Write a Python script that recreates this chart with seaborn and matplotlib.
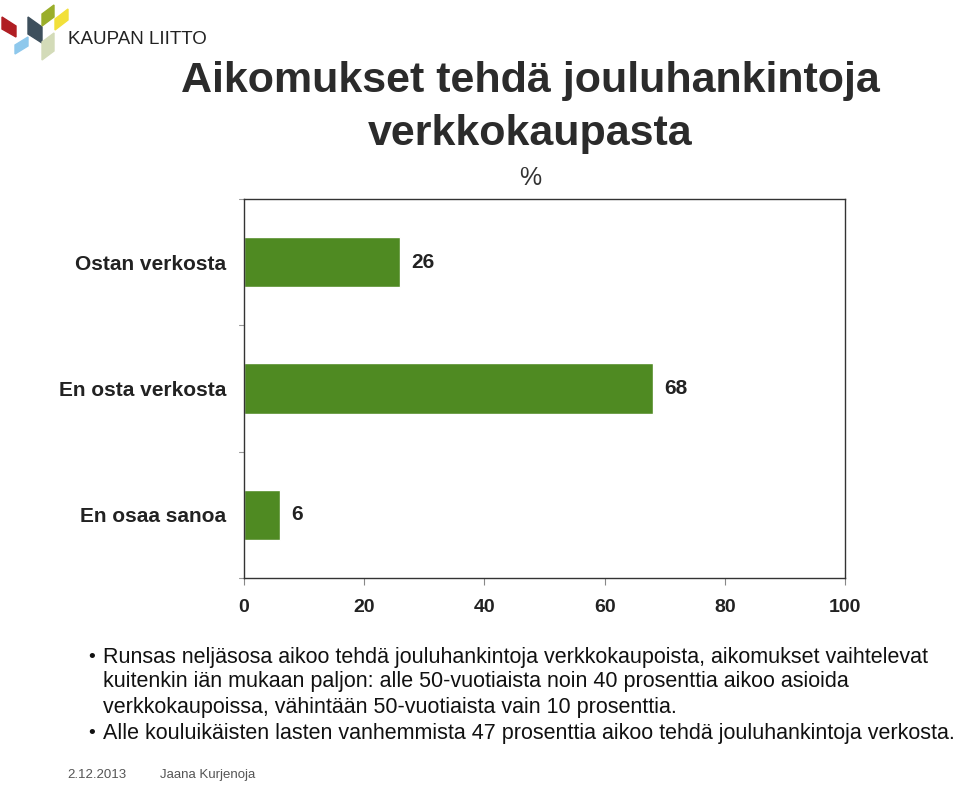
import matplotlib
matplotlib.use("Agg")
import matplotlib.pyplot as plt
import seaborn as sns
import pandas as pd
from matplotlib.patches import Polygon

categories = ["Ostan verkosta", "En osta verkosta", "En osaa sanoa"]
values = [26, 68, 6]
xticks = [0, 20, 40, 60, 80, 100]

sns.set_theme(style="white")
plt.rcParams['font.family'] = ['Liberation Sans', 'DejaVu Sans']

df = pd.DataFrame({"cat": categories, "val": values})

fig = plt.figure(figsize=(9.6, 7.86), dpi=100)
ax = fig.add_axes([244/960, 1-578/786, (845-244)/960, (578-199)/786])
sns.barplot(data=df, y="cat", x="val", ax=ax, color="#4f8a22", width=0.4,
            orient="h", saturation=1)
ax.set_xlim(0, 100)
ax.set_ylim(2.5, -0.5)
ax.set_xticks(xticks)
ax.set_xticklabels([str(t) for t in xticks], fontsize=14, fontweight='bold', color='#222222')
ax.set_xlabel("")
ax.set_ylabel("")
ax.set_yticks([0, 1, 2])
ax.set_yticklabels(categories, fontsize=15, fontweight='bold', color='#222222')
ax.tick_params(axis='y', length=0, pad=13)
ax.tick_params(axis='x', length=5, width=0.8, color='#888888', direction='out', pad=10)
ax.xaxis.set_ticks_position('bottom')
# boundary ticks on y axis
for yb in [-0.5, 0.5, 1.5, 2.5]:
    ax.plot([-0.8, 0], [yb, yb], color='#999999', lw=0.8, clip_on=False)
for s in ax.spines.values():
    s.set_color('#333333')
    s.set_linewidth(1.0)
for i, v in enumerate(values):
    ax.text(v + 1.9, i, str(v), va='center', ha='left', fontsize=15, fontweight='bold', color='#222222')

# Title
fig.text(530/960, 1-81/786, "Aikomukset tehdä jouluhankintoja", ha='center', va='center',
         fontsize=31, fontweight='bold', color='#2b2b2b')
fig.text(530/960, 1-134/786, "verkkokaupasta", ha='center', va='center',
         fontsize=31, fontweight='bold', color='#2b2b2b')
fig.text(530/960, 1-178/786, "%", ha='center', va='center', fontsize=18, color='#333333')

# Logo
logo = [
    ([(2, 17), (16, 26), (16, 37), (2, 29)], '#b01e23'),
    ([(15, 45), (28, 37), (28, 46), (15, 54)], '#8ec8ec'),
    ([(28, 17), (42, 27), (42, 43), (28, 34)], '#3d4f5c'),
    ([(42, 14), (54, 5), (54, 17), (42, 26)], '#9aae2a'),
    ([(55, 19), (68, 9), (68, 20), (55, 30)], '#f2e03a'),
    ([(42, 42), (54, 33), (54, 51), (42, 60)], '#d3dbb8'),
]
for pts, col in logo:
    poly = Polygon([(x/960, 1-y/786) for x, y in pts], closed=True, color=col,
                   transform=fig.transFigure, figure=fig)
    fig.patches.append(poly)
fig.text(68/960, 1-40/786, "KAUPAN LIITTO", ha='left', va='center', fontsize=13.5, color='#222222')

# Bullets
bullet_lines = [
    (88, 103, 657, "•", "Runsas neljäsosa aikoo tehdä jouluhankintoja verkkokaupoista, aikomukset vaihtelevat"),
    (None, 103, 682, None, "kuitenkin iän mukaan paljon: alle 50-vuotiaista noin 40 prosenttia aikoo asioida"),
    (None, 103, 707, None, "verkkokaupoissa, vähintään 50-vuotiaista vain 10 prosenttia."),
    (88, 103, 733, "•", "Alle kouluikäisten lasten vanhemmista 47 prosenttia aikoo tehdä jouluhankintoja verkosta."),
]
for bx, tx, y, b, t in bullet_lines:
    if b:
        fig.text(bx/960, 1-y/786, b, ha='left', va='center', fontsize=14, color='#111111')
    fig.text(tx/960, 1-y/786, t, ha='left', va='center', fontsize=15.5, color='#111111')

# Footer
fig.text(67/960, 1-775/786, "2.12.2013", ha='left', va='center', fontsize=9.5, color='#555555')
fig.text(160/960, 1-775/786, "Jaana Kurjenoja", ha='left', va='center', fontsize=9.5, color='#555555')

fig.savefig("out.png", dpi=100)
